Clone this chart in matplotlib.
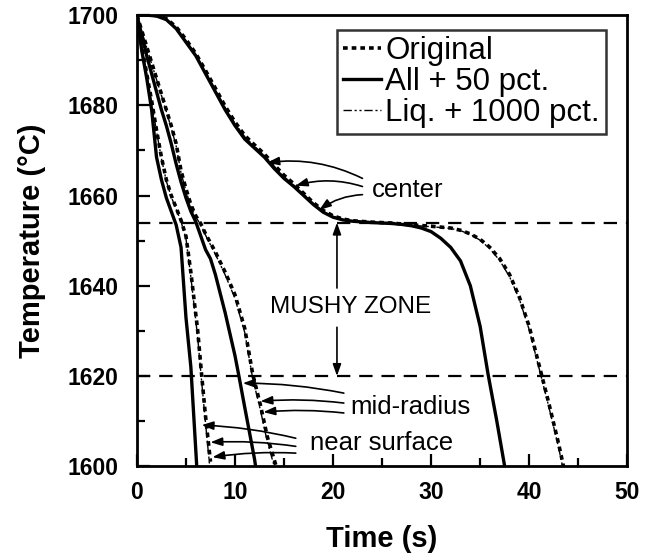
import matplotlib
matplotlib.use("Agg")
import matplotlib.pyplot as plt

plt.rcParams['font.family'] = ['Liberation Sans', 'DejaVu Sans']

# ---------------- data ----------------
# center
c_all_t = [0, 1, 2, 3, 4, 5, 6, 7, 8, 9, 10, 11, 12, 13, 14, 15, 16, 17, 18, 19, 20, 21, 22, 24, 26, 27, 28, 29, 30, 31, 32, 33, 34, 35, 35.8, 36.7, 37.5]
c_all_T = [1700, 1700, 1699.8, 1699, 1697, 1694, 1691, 1687, 1683, 1679, 1675.5, 1672.5, 1670.5, 1668.5, 1666, 1663.8, 1662, 1660, 1658, 1656.3, 1655.2, 1654.6, 1654.3, 1654, 1653.8, 1653.6, 1653.3, 1652.8, 1652, 1650.5, 1648.5, 1645.5, 1640, 1631, 1620.5, 1610, 1600]
c_org_t = [0, 1, 2, 3, 4, 5, 6, 7, 8, 9, 10, 11, 12, 13, 14, 15, 16, 17, 18, 19, 20, 21, 22, 24, 26, 28, 30, 32, 33, 34, 35, 36, 37, 38, 39, 40, 41, 42, 43, 43.5]
c_org_T = [1700, 1700, 1699.9, 1699.2, 1697.4, 1694.6, 1691.5, 1687.7, 1683.8, 1679.8, 1676.3, 1673.3, 1671.2, 1669.2, 1666.8, 1664.5, 1662.6, 1660.5, 1658.4, 1656.7, 1655.5, 1654.8, 1654.4, 1654.1, 1653.9, 1653.5, 1653.2, 1652.8, 1652.3, 1651.5, 1650.3, 1648.5, 1646, 1642.5, 1637.5, 1631, 1622.5, 1614, 1605, 1600]
c_liq_t = [0, 1, 2, 3, 4, 5, 6, 7, 8, 9, 10, 11, 12, 13, 14, 15, 16, 17, 18, 19, 20, 21, 22, 24, 26, 28, 30, 32, 33, 34, 35, 36, 37, 38, 39, 40, 41, 42, 43, 43.4]
c_liq_T = [1700, 1700, 1699.9, 1699.1, 1697.2, 1694.3, 1691.2, 1687.4, 1683.5, 1679.5, 1676, 1673, 1670.9, 1668.9, 1666.5, 1664.2, 1662.3, 1660.3, 1658.2, 1656.5, 1655.3, 1654.7, 1654.3, 1654, 1653.8, 1653.4, 1653.1, 1652.7, 1652.2, 1651.4, 1650.1, 1648.2, 1645.6, 1642, 1637, 1630.3, 1621.8, 1613.2, 1604.2, 1600]

# mid-radius
m_all_t = [0, 0.5, 1, 1.5, 2, 2.5, 3, 3.5, 4, 4.5, 5, 5.5, 6, 7, 7.5, 8, 9, 10, 10.4, 11, 12, 12.1]
m_all_T = [1700, 1695.5, 1691, 1687, 1683, 1679, 1675.5, 1671.5, 1667, 1663, 1659.5, 1656.5, 1654.2, 1648, 1646, 1642.5, 1634, 1624.5, 1620, 1613, 1601.5, 1600]
m_org_t = [0, 0.5, 1, 1.5, 2, 2.5, 3, 3.5, 4, 4.5, 5, 5.5, 6, 6.5, 7, 8, 9, 10, 11, 11.8, 12.6, 13.3, 14.2]
m_org_T = [1700, 1696.5, 1693, 1689.5, 1686, 1682.5, 1679, 1675.5, 1671.5, 1665.5, 1661.5, 1658, 1655.5, 1653.8, 1651.5, 1647.5, 1643, 1638, 1630.5, 1620.5, 1613.5, 1606.5, 1600]
m_liq_t = [0, 0.5, 1, 1.5, 2, 2.5, 3, 3.5, 4, 4.5, 5, 5.5, 6, 6.5, 7, 8, 9, 10, 11, 11.8, 12.6, 13.3, 14.0]
m_liq_T = [1700, 1696.3, 1692.8, 1689.2, 1685.7, 1682.2, 1678.6, 1675, 1671, 1665, 1661, 1657.6, 1655.2, 1653.6, 1651.2, 1647, 1642.4, 1637.2, 1629.6, 1619.5, 1612.4, 1605.4, 1600]

# near surface
n_all_t = [0, 0.5, 1, 1.5, 2, 2.5, 3, 3.5, 4, 4.5, 5, 5.5, 6.1]
n_all_T = [1700, 1692, 1686, 1679, 1668.5, 1663.5, 1659.5, 1656.5, 1653.5, 1648.5, 1633, 1622, 1600]
n_org_t = [0, 0.5, 1, 1.5, 2, 2.5, 3, 3.5, 4, 4.5, 5, 5.5, 6.2, 6.6, 7, 7.5]
n_org_T = [1700, 1693, 1687, 1681, 1674.5, 1668.5, 1663.5, 1660, 1657.3, 1654.5, 1651, 1643, 1630, 1620.2, 1611, 1601]
n_liq_t = [0, 0.5, 1, 1.5, 2, 2.5, 3, 3.5, 4, 4.5, 5, 5.5, 6.2, 6.6, 7, 7.4]
n_liq_T = [1700, 1692.8, 1686.8, 1680.7, 1674.2, 1668.2, 1663.2, 1659.7, 1657, 1654.2, 1650.5, 1642, 1628.5, 1618.8, 1609.5, 1600.5]

liquidus_T = 1654
solidus_T = 1620

series_labels = ['Original', 'All + 50 pct.', 'Liq. + 1000 pct.']
xticks = [0, 10, 20, 30, 40, 50]
yticks = [1600, 1620, 1640, 1660, 1680, 1700]

# annotation arrows (tail -> tip), data coordinates
center_tails = [(23.0, 1663.8), (23.0, 1662.0), (23.0, 1660.2)]
center_tips = [(13.3, 1667.3), (16.2, 1662.2), (18.6, 1656.8)]
mid_tails = [(21.1, 1616.2), (21.1, 1614.0), (21.1, 1611.8)]
mid_tips = [(10.8, 1618.4), (12.6, 1614.4), (12.9, 1612.0)]
near_tails = [(16.2, 1606.2), (16.2, 1604.4), (16.2, 1602.9)]
near_tips = [(6.6, 1609.1), (7.5, 1605.3), (7.7, 1602.0)]

# ---------------- plot ----------------
fig = plt.figure(figsize=(6.52, 5.59), dpi=100)
ax = fig.add_axes([0.210, 0.166, 0.752, 0.807])

org_style = dict(color='black', lw=2.6, dashes=(1.3, 1.1))
all_style = dict(color='black', lw=2.4, linestyle='-')
liq_style = dict(color='black', lw=1.0, dashes=(6, 2, 1.5, 2, 1.5, 2))

for tt, TT, st, lab in [
    (c_org_t, c_org_T, org_style, series_labels[0]),
    (c_all_t, c_all_T, all_style, series_labels[1]),
    (c_liq_t, c_liq_T, liq_style, series_labels[2]),
]:
    ax.plot(tt, TT, label=lab, **st)
for tt, TT, st in [
    (m_org_t, m_org_T, org_style), (m_all_t, m_all_T, all_style), (m_liq_t, m_liq_T, liq_style),
    (n_org_t, n_org_T, org_style), (n_all_t, n_all_T, all_style), (n_liq_t, n_liq_T, liq_style),
]:
    ax.plot(tt, TT, **st)

for yv in (liquidus_T, solidus_T):
    ax.axhline(yv, color='black', lw=1.6, dashes=(6, 4))

ax.set_xlim(0, 50)
ax.set_ylim(1600, 1700)
ax.set_xticks(xticks)
ax.set_yticks(yticks)
ax.set_xticks([5, 15, 25, 35, 45], minor=True)
ax.set_yticks([1610, 1630, 1650, 1670, 1690], minor=True)
ax.tick_params(which='both', direction='in', width=1.6, top=False, right=False)
ax.tick_params(which='major', length=9)
ax.tick_params(which='minor', length=6)
ax.tick_params(axis='x', which='major', pad=11, labelsize=16.5)
ax.tick_params(axis='y', which='major', pad=13, labelsize=16.5)
for lbl in ax.get_xticklabels() + ax.get_yticklabels():
    lbl.set_fontweight('bold')
for sp in ax.spines.values():
    sp.set_linewidth(2.0)

ax.set_xlabel('Time (s)', fontsize=21, fontweight='bold', labelpad=15)
ax.set_ylabel('Temperature (\u00b0C)', fontsize=21, fontweight='bold', labelpad=16)

leg = ax.legend(loc='upper right', bbox_to_anchor=(0.957, 0.968), fontsize=22.5,
                frameon=True, fancybox=False, edgecolor='black',
                handlelength=1.2, handletextpad=0.15, borderpad=0.2,
                labelspacing=0.03, borderaxespad=0.0)
leg.get_frame().set_linewidth(1.8)

arrow_kw = dict(arrowstyle='-|>,head_length=0.7,head_width=0.25', color='black', lw=1.2,
                shrinkA=0, shrinkB=0)
for (tl, tp) in zip(center_tails, center_tips):
    ax.annotate('', xy=tp, xytext=tl, arrowprops=dict(connectionstyle='arc3,rad=0.15', **arrow_kw))
for (tl, tp) in zip(mid_tails, mid_tips):
    ax.annotate('', xy=tp, xytext=tl, arrowprops=dict(connectionstyle='arc3,rad=0.05', **arrow_kw))
for (tl, tp) in zip(near_tails, near_tips):
    ax.annotate('', xy=tp, xytext=tl, arrowprops=dict(connectionstyle='arc3,rad=0.05', **arrow_kw))

ax.text(24.0, 1661.3, 'center', fontsize=18.5, va='center', ha='left')
ax.text(21.8, 1635.3, 'MUSHY ZONE', fontsize=17.5, va='center', ha='center')
ax.text(21.8, 1613.1, 'mid-radius', fontsize=18.5, va='center', ha='left')
ax.text(17.7, 1605.1, 'near surface', fontsize=18.5, va='center', ha='left')

ax.annotate('', xy=(20.4, liquidus_T), xytext=(20.4, 1639.5), arrowprops=arrow_kw)
ax.annotate('', xy=(20.4, solidus_T), xytext=(20.4, 1630.8), arrowprops=arrow_kw)

fig.savefig('out.png', dpi=100)
